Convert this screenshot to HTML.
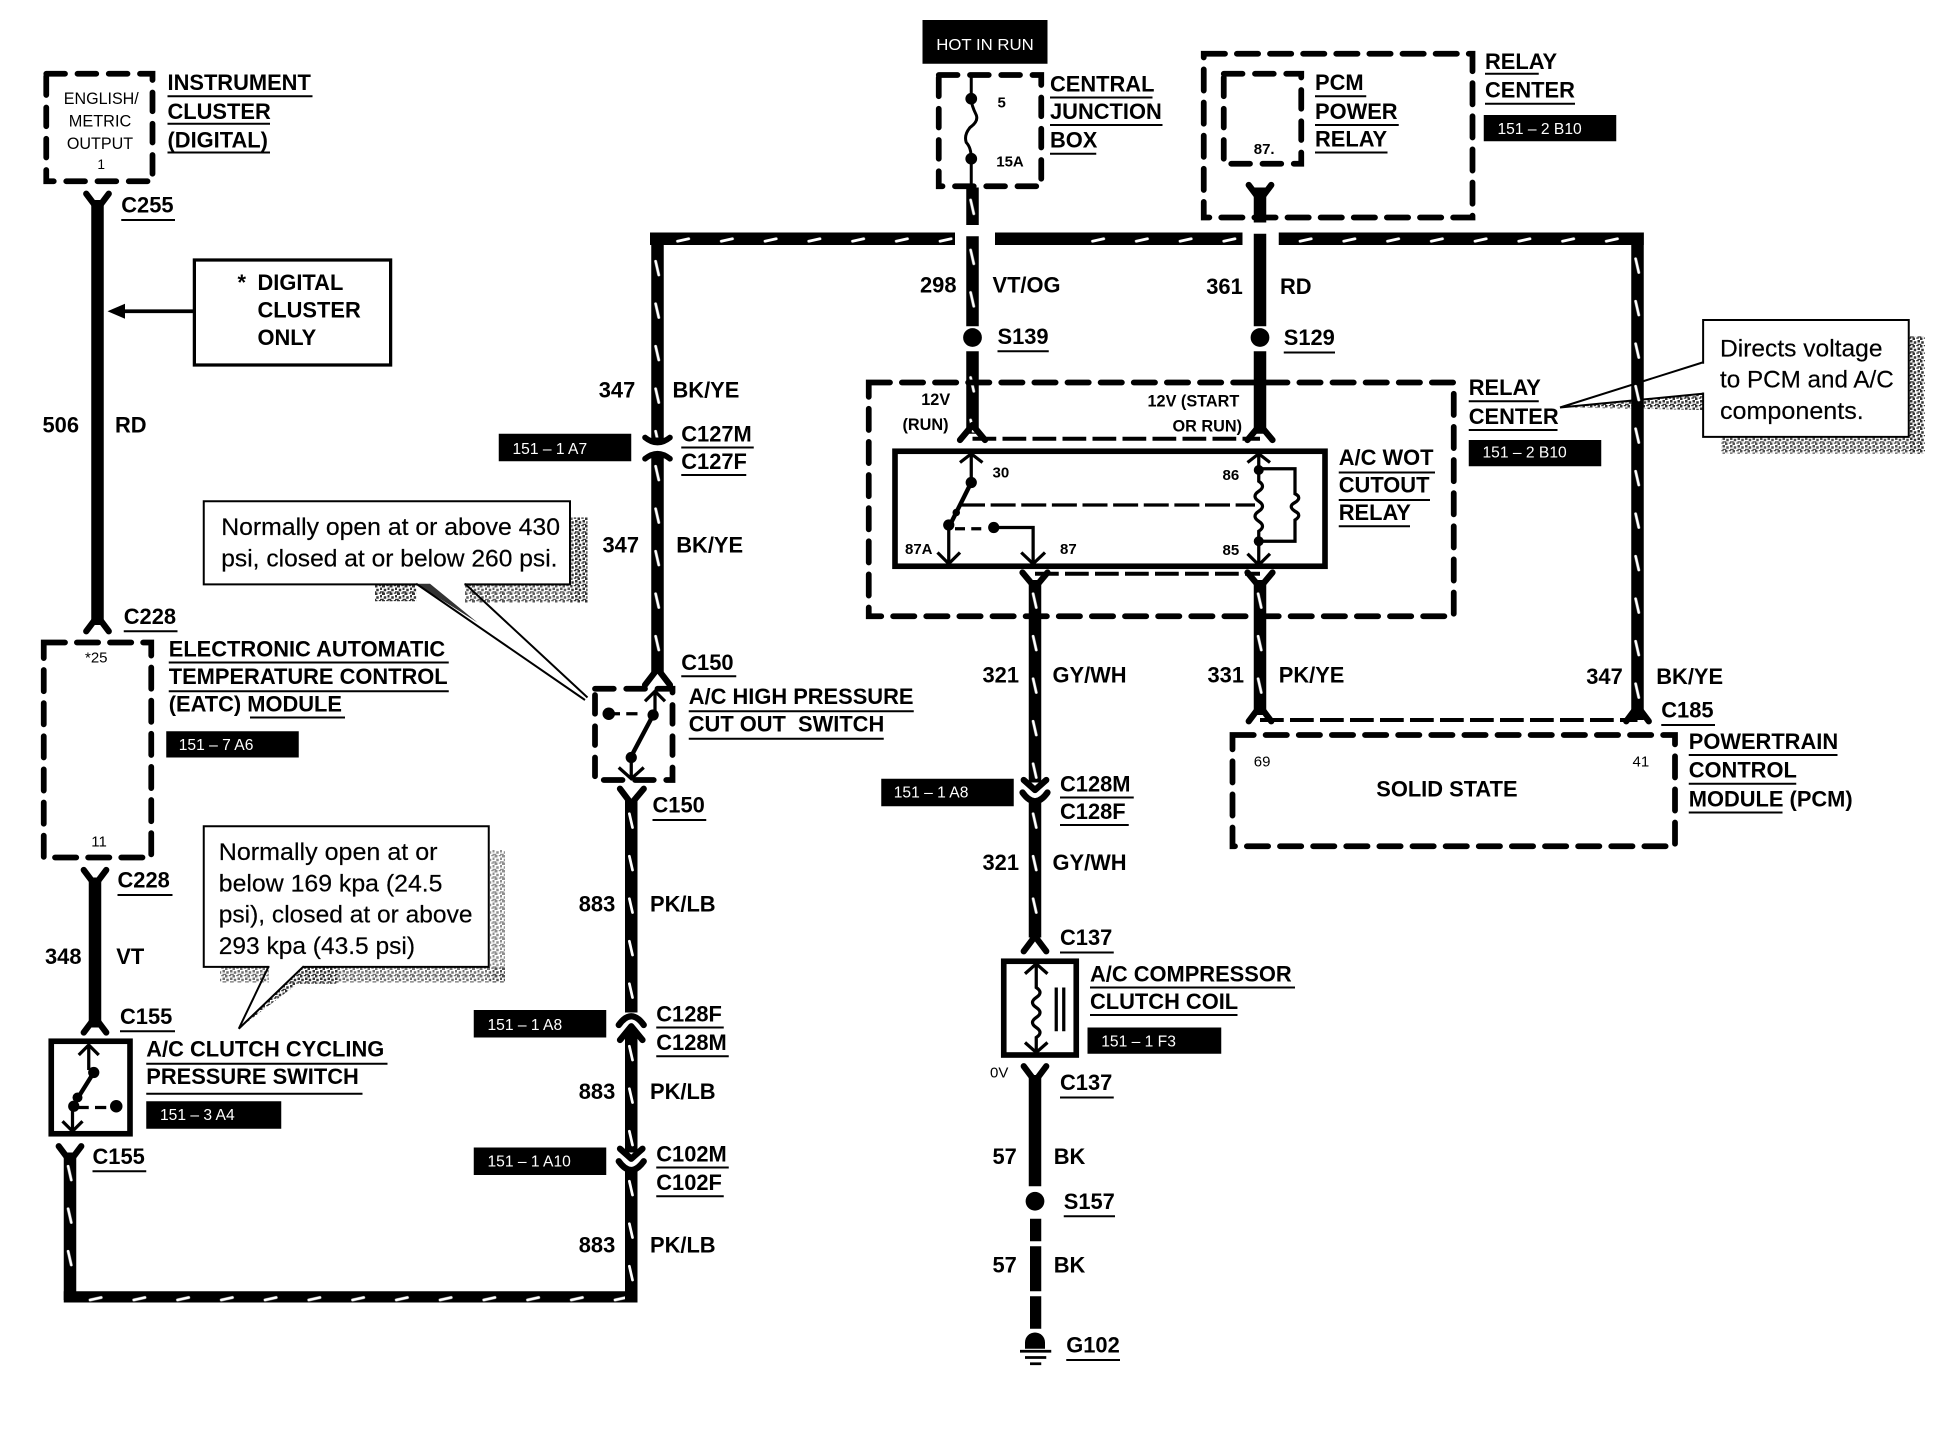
<!DOCTYPE html>
<html><head><meta charset="utf-8"><style>
html,body{margin:0;padding:0;background:#fff}
svg{display:block}
text{font-family:"Liberation Sans",sans-serif;fill:#000}
.b{font-weight:bold;font-size:17.5px}
.s{font-weight:bold;font-size:13px}
.t{font-size:12.5px;fill:#fff}
.c{font-size:19.6px;stroke:#000;stroke-width:.15}
.m{font-size:13.5px;text-anchor:middle}
.u{stroke:#000;stroke-width:1.6;fill:none}
.d{fill:none;stroke:#000;stroke-width:4.6;stroke-linecap:round;stroke-dasharray:17 9.5}
.ds{fill:none;stroke:#000;stroke-width:4.6;stroke-linecap:round;stroke-dasharray:15 10}
.f{fill:none;stroke:#000;stroke-width:4.5}
.a{fill:none;stroke:#000;stroke-width:2.6}
.k{fill:none;stroke:#000;stroke-width:5;stroke-linecap:round;stroke-linejoin:round}
</style></head><body>
<svg xmlns="http://www.w3.org/2000/svg" width="1960" height="1456" viewBox="0 0 1568 1164.8">
<defs>
<pattern id="vt" patternUnits="userSpaceOnUse" width="10" height="34"><path d="M3.5 9L6 20" stroke="#fff" stroke-width="2.200" stroke-linecap="round"/></pattern>
<pattern id="ht" patternUnits="userSpaceOnUse" width="35" height="10"><path d="M12 7L21 5" stroke="#fff" stroke-width="2.200" stroke-linecap="round"/></pattern>
<pattern id="ds" patternUnits="userSpaceOnUse" width="6" height="6"><rect width="6" height="6" fill="#fff"/><path d="M0 0h2v2H0zM3 0h2v1H3zM1 3h2v2H1zM4 2h2v2H4zM0 5h1v1H0zM4 5h2v1H4z" fill="#333"/></pattern>
</defs>

<!-- relay-centre callout pointer sits behind the 347 wire -->
<path d="M1254 326L1362 315V328Z" fill="url(#ds)"/>
<path d="M1248 326L1362 290M1248 326L1362 315" class="u"/>

<!-- solid wires -->
<g fill="#000">
<rect x="73" y="160" width="10" height="340"/>
<rect x="71" y="702" width="10" height="120"/>
<rect x="823" y="860" width="10" height="89"/>
<rect x="824" y="975" width="9" height="18"/>
<rect x="824" y="997" width="9" height="36"/>
<rect x="824" y="1037" width="9" height="26"/>
</g>
<!-- ticked wires -->
<g fill="#000">
<rect x="51" y="922" width="10" height="118"/>
<rect x="51" y="1033" width="458" height="9"/>
<rect x="500" y="640" width="10" height="170"/>
<rect x="500" y="824" width="10" height="98"/>
<rect x="500" y="934" width="10" height="108"/>
<rect x="521" y="190" width="10" height="164"/>
<rect x="521" y="362" width="10" height="176"/>
<rect x="520" y="186" width="244" height="10"/>
<rect x="796" y="186" width="198" height="10"/>
<rect x="1023" y="186" width="292" height="10"/>
<rect x="1305" y="186" width="10" height="390"/>
<rect x="773" y="150" width="10" height="30"/>
<rect x="773" y="189" width="10" height="72"/>
<rect x="773" y="281" width="10" height="66"/>
<rect x="1003" y="150" width="10" height="28"/>
<rect x="1003" y="187" width="10" height="74"/>
<rect x="1003" y="281" width="10" height="66"/>
<rect x="823" y="464" width="10" height="162"/>
<rect x="823" y="640" width="10" height="110"/>
<rect x="1003" y="464" width="10" height="108"/>
</g>
<g>
<rect width="10" height="105" y="0" transform="translate(51,924)" fill="url(#vt)"/>
<rect width="10" height="168" y="0" transform="translate(500,642)" fill="url(#vt)"/>
<rect width="10" height="90" y="0" transform="translate(500,828)" fill="url(#vt)"/>
<rect width="10" height="95" y="0" transform="translate(500,936)" fill="url(#vt)"/>
<rect width="10" height="150" y="0" transform="translate(521,200)" fill="url(#vt)"/>
<rect width="10" height="172" y="0" transform="translate(521,364)" fill="url(#vt)"/>
<rect width="10" height="376" y="0" transform="translate(1305,198)" fill="url(#vt)"/>
<rect width="10" height="29" y="0" transform="translate(773,151)" fill="url(#vt)"/>
<rect width="10" height="155" y="0" transform="translate(773,191)" fill="url(#vt)"/>
<rect width="10" height="160" y="0" transform="translate(823,466)" fill="url(#vt)"/>
<rect width="10" height="105" y="0" transform="translate(823,642)" fill="url(#vt)"/>
<rect width="10" height="105" y="0" transform="translate(1003,466)" fill="url(#vt)"/>
<rect width="440" height="9" y="0" transform="translate(60,1033)" fill="url(#ht)"/>
<rect width="232" height="10" y="0" transform="translate(530,186)" fill="url(#ht)"/>
<rect width="130" height="10" y="0" transform="translate(862,186)" fill="url(#ht)"/>
<rect width="280" height="10" y="0" transform="translate(1028,186)" fill="url(#ht)"/>
</g>
<!-- connector forks -->
<g class="k">
<path d="M69 155L78 167L87 155"/>
<path d="M69 505L78 493L87 505"/>
<path d="M67 696L76 708L85 696"/>
<path d="M67 826L76 814L85 826"/>
<path d="M47 917L56 929L65 917"/>
<path d="M496 631L505 643L515 631"/>
<path d="M516 548L526 535L536 548"/>
<path d="M768 352L778 340L788 352"/>
<path d="M998 352L1008 340L1018 352"/>
<path d="M818 458L828 470L838 458"/>
<path d="M998 458L1008 470L1018 458"/>
<path d="M999 148L1008 160L1017 148"/>
<path d="M999 577L1008 565L1017 577"/>
<path d="M1301 577L1310 565L1319 577"/>
<path d="M819 761L828 749L837 761"/>
<path d="M819 853L828 865L837 853"/>
<!-- C127 -->
<path d="M516 350Q526 358 536 350" stroke-width="4.500"/><path d="M516 367Q526 359 536 367" stroke-width="4.500"/>
<!-- C128F/M lower-left -->
<path d="M495 820Q505 806 515 820"/><path d="M496 832L505 821L514 832"/>
<!-- C102 -->
<path d="M496 919L505 927L514 919"/><path d="M495 929Q505 943 515 929"/>
<!-- C128M/F centre -->
<path d="M819 624L828 632L837 624"/><path d="M818 634Q828 648 838 634"/>
</g>

<!-- dashed boxes -->
<rect x="37" y="59" width="85" height="86" class="ds"/>
<rect x="35" y="514" width="86" height="172" class="d"/>
<rect x="751" y="60" width="82" height="89" class="ds"/>
<rect x="963" y="43" width="215" height="131" class="d"/>
<rect x="979" y="59" width="62" height="72" class="ds"/>
<rect x="695" y="306" width="468" height="187" class="d"/>
<rect x="476" y="551" width="62" height="73" class="ds"/>
<rect x="986" y="588" width="354" height="89" class="d"/>
<path d="M778 351H1008M828 459H1008M1008 576H1310" fill="none" stroke="#000" stroke-width="3.2" stroke-dasharray="19 5"/>

<!-- solid boxes -->
<rect x="155.500" y="208" width="157" height="84" fill="#fff" stroke="#000" stroke-width="2.6"/>
<path d="M155 249H98" stroke="#000" stroke-width="3"/><path d="M86 249L100 243V255Z" fill="#000"/>
<rect x="41" y="833" width="63" height="74" class="f"/>
<rect x="716" y="361" width="344" height="92" class="f"/>
<rect x="803" y="769" width="58" height="75" class="f"/>

<!-- clutch switch -->
<g class="a">
<path d="M71 836V856M63 844L71 836L79 844"/><path d="M75 858L60 882" stroke-width="3.5"/>
<path d="M58 885V905M50 897L58 905L66 897"/>
<path d="M62 886H90" stroke-dasharray="9 5"/>
</g>
<circle cx="75" cy="858" r="4.500"/><circle cx="62" cy="878" r="4"/><circle cx="59" cy="885" r="4.500"/><circle cx="93" cy="885" r="5"/>

<!-- high pressure switch -->
<g class="a">
<path d="M524 553V572M516 561L524 553L532 561"/><path d="M522 573L505 605" stroke-width="3.500"/>
<path d="M505 605V623M495 614L505 623L515 614"/>
<path d="M487 571H515" stroke-dasharray="9 5"/>
</g>
<circle cx="522.500" cy="572" r="4.500"/><circle cx="505" cy="606" r="4.500"/><circle cx="487" cy="571" r="5"/>

<!-- relay internals -->
<g class="a">
<path d="M777 363V386M768 370L777 363L786 370"/>
<path d="M777 386L760 420" stroke-width="3.500"/>
<path d="M759 420V451M750 442L759 451L768 442"/>
<path d="M768 404H1004" stroke-dasharray="20 4.500"/>
<path d="M764 423H790" stroke-dasharray="8 5"/>
<path d="M795 422H826.500V451M817 442L826.500 451L836 442"/>
<path d="M1007 363V376M998 370L1007 363L1016 370"/>
<path d="M1007 376v9q6 4 0 8q-6 4 0 8q6 4 0 8q-6 4 0 8q6 4 0 8V452M998 443L1007 452L1016 443"/>
<path d="M1007 375H1036v20q6 3 0 7q-6 3 0 7q6 3 0 7V433H1007"/>
</g>
<circle cx="777" cy="386" r="4.500"/><circle cx="765" cy="410" r="3"/><circle cx="759" cy="420" r="4.500"/><circle cx="795" cy="422" r="4.500"/><circle cx="1007" cy="376" r="4"/><circle cx="1007" cy="433" r="4"/>

<!-- fuse -->
<path d="M777 60V79Q777 84 781 92Q783 97 776 102Q771 108 773 114Q777 118 777 127V150" fill="none" stroke="#000" stroke-width="2.400"/>
<circle cx="777" cy="79" r="4.700"/><circle cx="777" cy="127" r="4.700"/>

<!-- clutch coil -->
<g class="a">
<path d="M829 771V790q6 4 0 8q-6 4 0 8q6 4 0 8q-6 4 0 8q6 4 0 8V842M820 779L829 771L838 779M820 834L829 842L838 834"/>
<path d="M845 790V825M851 790V825"/>
</g>

<!-- splices and ground -->
<circle cx="778" cy="270" r="7.500"/><circle cx="1008" cy="270" r="7.500"/><circle cx="828" cy="961" r="7.500"/>
<path d="M820 1079V1074A8 8 0 0 1 836 1074V1079Z"/>
<path d="M816 1081H841M820 1086H837M824 1091H833" stroke="#000" stroke-width="2.200"/>

<!-- callouts -->
<rect x="457" y="414" width="13" height="68" fill="url(#ds)"/><rect x="372" y="468" width="98" height="14" fill="url(#ds)" opacity=".8"/><rect x="300" y="468" width="33" height="13" fill="url(#ds)"/>
<path d="M333 468L372 468L360 478Z" fill="#fff"/>
<rect x="163" y="401" width="293" height="66.500" fill="#fff" stroke="#000" stroke-width="1.600"/>
<path d="M333.500 467.500H371.500" stroke="#fff" stroke-width="2.500"/>
<path d="M333 467L344 467L382 498Z" fill="#333"/>
<path d="M333 467L468 560M372 467L470 558" class="u"/>

<rect x="392" y="680" width="12" height="106" fill="url(#ds)" opacity=".55"/><rect x="176" y="774" width="228" height="12" fill="url(#ds)" opacity=".7"/>
<path d="M215 774H243V788H215Z" fill="#fff"/>
<path d="M192 822L243 774H270V787H238Z" fill="url(#ds)"/>
<rect x="163" y="661" width="228" height="112.500" fill="#fff" stroke="#000" stroke-width="1.600"/>
<path d="M215.500 773.500H242.500" stroke="#fff" stroke-width="2.500"/>
<path d="M191 823L215 773M191 823L243 773" class="u"/>

<rect x="1527" y="269" width="13" height="94" fill="url(#ds)"/><rect x="1377" y="350" width="163" height="13" fill="url(#ds)" opacity=".85"/>
<rect x="1362.500" y="256" width="164.500" height="93.500" fill="#fff" stroke="#000" stroke-width="1.600"/>
<path d="M1362.500 291V314" stroke="#fff" stroke-width="2.500"/>

<text class="c" x="177" y="428" textLength="271" lengthAdjust="spacingAndGlyphs">Normally open at or above 430</text>
<text class="c" x="177" y="453" textLength="269" lengthAdjust="spacingAndGlyphs">psi, closed at or below 260 psi.</text>
<text class="c" x="175" y="688" textLength="175" lengthAdjust="spacingAndGlyphs">Normally open at or</text>
<text class="c" x="175" y="713" textLength="179" lengthAdjust="spacingAndGlyphs">below 169 kpa (24.5</text>
<text class="c" x="175" y="738" textLength="203" lengthAdjust="spacingAndGlyphs">psi), closed at or above</text>
<text class="c" x="175" y="763" textLength="157" lengthAdjust="spacingAndGlyphs">293 kpa (43.5 psi)</text>
<text class="c" x="1376" y="285" textLength="130" lengthAdjust="spacingAndGlyphs">Directs voltage</text>
<text class="c" x="1376" y="310" textLength="139" lengthAdjust="spacingAndGlyphs">to PCM and A/C</text>
<text class="c" x="1376" y="335" textLength="115" lengthAdjust="spacingAndGlyphs">components.</text>

<!-- black tags -->
<g fill="#000">
<rect x="738" y="16" width="100" height="35"/>
<rect x="399" y="347" width="106" height="22"/>
<rect x="133" y="585" width="106" height="21"/>
<rect x="117" y="881" width="108" height="22"/>
<rect x="379" y="808" width="106" height="22"/>
<rect x="379" y="918" width="106" height="22"/>
<rect x="705" y="623" width="106" height="22"/>
<rect x="870" y="822" width="107" height="21"/>
<rect x="1187" y="92" width="106" height="21"/>
<rect x="1175" y="352" width="106" height="21"/>
</g>
<text class="t" x="749" y="40" textLength="78" lengthAdjust="spacingAndGlyphs">HOT IN RUN</text>
<text class="t" x="410" y="363">151 – 1 A7</text>
<text class="t" x="143" y="600">151 – 7 A6</text>
<text class="t" x="128" y="896">151 – 3 A4</text>
<text class="t" x="390" y="824">151 – 1 A8</text>
<text class="t" x="390" y="933">151 – 1 A10</text>
<text class="t" x="715" y="638">151 – 1 A8</text>
<text class="t" x="881" y="837">151 – 1 F3</text>
<text class="t" x="1198" y="107">151 – 2 B10</text>
<text class="t" x="1186" y="366">151 – 2 B10</text>

<!-- small inner text -->
<text class="m" x="81" y="83" textLength="60" lengthAdjust="spacingAndGlyphs">ENGLISH/</text>
<text class="m" x="80" y="101" textLength="50" lengthAdjust="spacingAndGlyphs">METRIC</text>
<text class="m" x="80" y="119" textLength="53" lengthAdjust="spacingAndGlyphs">OUTPUT</text>
<text class="m" x="81" y="135" style="font-size:11px">1</text>
<text x="68" y="530" style="font-size:12px">*25</text>
<text x="73" y="677" style="font-size:12px">11</text>
<text class="s" x="798" y="86" style="font-size:12px">5</text>
<text class="s" x="797" y="133" style="font-size:12px">15A</text>
<text class="s" x="1003" y="123" style="font-size:12px">87.</text>
<text class="s" x="737" y="324">12V</text>
<text class="s" x="722" y="344">(RUN)</text>
<text class="s" x="918" y="325">12V (START</text>
<text class="s" x="938" y="345">OR RUN)</text>
<text class="s" x="794" y="382" style="font-size:12px">30</text>
<text class="s" x="978" y="384" style="font-size:12px">86</text>
<text class="s" x="724" y="443" style="font-size:12px">87A</text>
<text class="s" x="848" y="443" style="font-size:12px">87</text>
<text class="s" x="978" y="444" style="font-size:12px">85</text>
<text x="1003" y="613" style="font-size:12px">69</text>
<text x="1306" y="613" style="font-size:12px">41</text>
<text x="792" y="862" style="font-size:12px">0V</text>

<!-- labels -->
<g>
<text class="b" x="134" y="72">INSTRUMENT</text>
<text class="b" x="134" y="95">CLUSTER</text>
<text class="b" x="134" y="118">(DIGITAL)</text>
<text class="b" x="97" y="170">C255</text>
<text class="b" x="190" y="232">*</text>
<text class="b" x="206" y="232">DIGITAL</text>
<text class="b" x="206" y="254">CLUSTER</text>
<text class="b" x="206" y="276">ONLY</text>
<text class="b" x="34" y="346">506</text>
<text class="b" x="92" y="346">RD</text>
<text class="b" x="99" y="499">C228</text>
<text class="b" x="135" y="525">ELECTRONIC AUTOMATIC</text>
<text class="b" x="135" y="547">TEMPERATURE CONTROL</text>
<text class="b" x="135" y="569">(EATC) MODULE</text>
<text class="b" x="94" y="710">C228</text>
<text class="b" x="36" y="771">348</text>
<text class="b" x="93" y="771">VT</text>
<text class="b" x="96" y="819">C155</text>
<text class="b" x="117" y="845">A/C CLUTCH CYCLING</text>
<text class="b" x="117" y="867">PRESSURE SWITCH</text>
<text class="b" x="74" y="931">C155</text>
<text class="b" x="479" y="318">347</text>
<text class="b" x="538" y="318">BK/YE</text>
<text class="b" x="545" y="353">C127M</text>
<text class="b" x="545" y="375">C127F</text>
<text class="b" x="482" y="442">347</text>
<text class="b" x="541" y="442">BK/YE</text>
<text class="b" x="545" y="536">C150</text>
<text class="b" x="551" y="563">A/C HIGH PRESSURE</text>
<text class="b" x="551" y="585" xml:space="preserve">CUT OUT  SWITCH</text>
<text class="b" x="522" y="650">C150</text>
<text class="b" x="463" y="729">883</text>
<text class="b" x="520" y="729">PK/LB</text>
<text class="b" x="525" y="817">C128F</text>
<text class="b" x="525" y="840">C128M</text>
<text class="b" x="463" y="879">883</text>
<text class="b" x="520" y="879">PK/LB</text>
<text class="b" x="525" y="929">C102M</text>
<text class="b" x="525" y="952">C102F</text>
<text class="b" x="463" y="1002">883</text>
<text class="b" x="520" y="1002">PK/LB</text>
<text class="b" x="840" y="73">CENTRAL</text>
<text class="b" x="840" y="95">JUNCTION</text>
<text class="b" x="840" y="118">BOX</text>
<text class="b" x="1052" y="72">PCM</text>
<text class="b" x="1052" y="95">POWER</text>
<text class="b" x="1052" y="117">RELAY</text>
<text class="b" x="1188" y="55">RELAY</text>
<text class="b" x="1188" y="78">CENTER</text>
<text class="b" x="736" y="234">298</text>
<text class="b" x="794" y="234">VT/OG</text>
<text class="b" x="965" y="235">361</text>
<text class="b" x="1024" y="235">RD</text>
<text class="b" x="798" y="275">S139</text>
<text class="b" x="1027" y="276">S129</text>
<text class="b" x="1175" y="316">RELAY</text>
<text class="b" x="1175" y="339">CENTER</text>
<text class="b" x="1071" y="372">A/C WOT</text>
<text class="b" x="1071" y="394">CUTOUT</text>
<text class="b" x="1071" y="416">RELAY</text>
<text class="b" x="786" y="546">321</text>
<text class="b" x="842" y="546">GY/WH</text>
<text class="b" x="966" y="546">331</text>
<text class="b" x="1023" y="546">PK/YE</text>
<text class="b" x="1269" y="547">347</text>
<text class="b" x="1325" y="547">BK/YE</text>
<text class="b" x="1329" y="574">C185</text>
<text class="b" x="1101" y="637">SOLID STATE</text>
<text class="b" x="1351" y="599">POWERTRAIN</text>
<text class="b" x="1351" y="622">CONTROL</text>
<text class="b" x="1351" y="645">MODULE (PCM)</text>
<text class="b" x="848" y="633">C128M</text>
<text class="b" x="848" y="655">C128F</text>
<text class="b" x="786" y="696">321</text>
<text class="b" x="842" y="696">GY/WH</text>
<text class="b" x="848" y="756">C137</text>
<text class="b" x="872" y="785">A/C COMPRESSOR</text>
<text class="b" x="872" y="807">CLUTCH COIL</text>
<text class="b" x="848" y="872">C137</text>
<text class="b" x="794" y="931">57</text>
<text class="b" x="843" y="931">BK</text>
<text class="b" x="851" y="967">S157</text>
<text class="b" x="794" y="1018">57</text>
<text class="b" x="843" y="1018">BK</text>
<text class="b" x="853" y="1082">G102</text>
</g>

<!-- underlines -->
<path class="u" d="M134 77H250M134 99H216M134 122H216M97 176H140M99 505H142M135 530H359M135 553H359M200 574H276M94 716H138M96 825H140M117 851H310M117 875H290M74 937H117M545 358H603M545 380H597M545 541H589M551 569H731M551 591H707M522 656H565M525 822H579M525 845H583M525 934H583M525 957H579M840 78H922M840 100H930M840 123H877M1052 77H1093M1052 100H1119M1052 122H1110M1188 59H1231M1188 83H1260M798 281H839M1027 282H1068M1175 321H1231M1175 344H1246M1071 378H1148M1071 400H1144M1071 421H1128M1329 580H1372M1351 604H1470M1351 627H1437M1351 650H1426M848 638H907M848 660H903M848 762H891M872 790H1036M872 812H990M848 878H891M851 973H892M853 1088H896"/>
</svg>
</body></html>
